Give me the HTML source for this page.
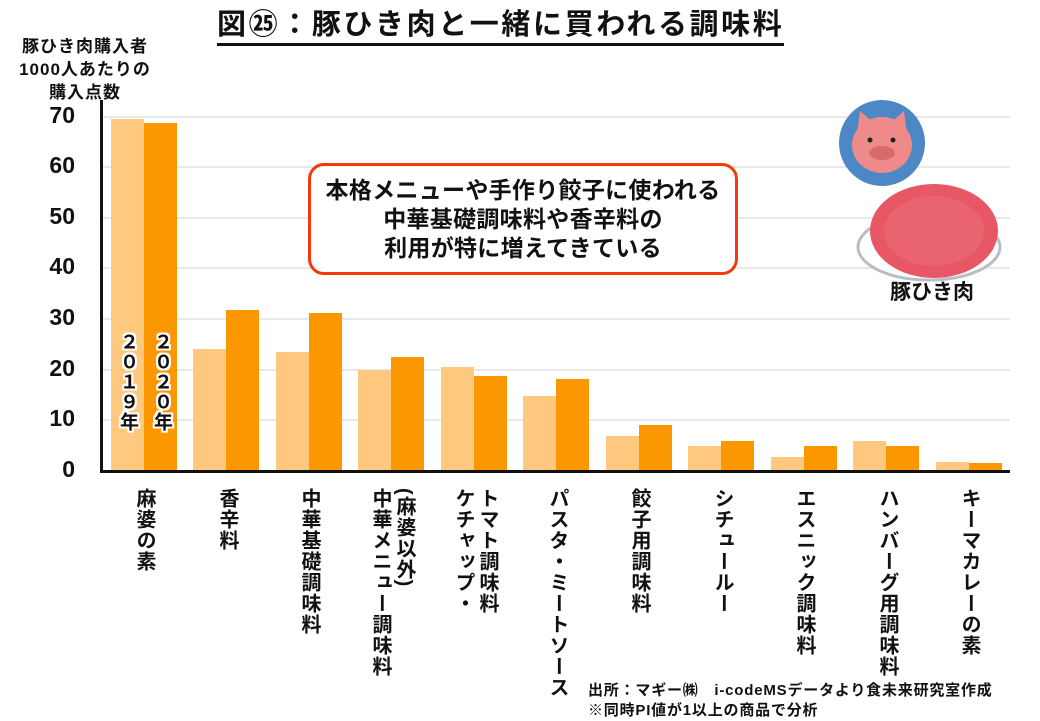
<!DOCTYPE html>
<html><head><meta charset="utf-8"><style>
body{margin:0;width:1040px;height:720px;background:#fff;position:relative;overflow:hidden;font-family:"Liberation Sans","Noto Sans CJK JP",sans-serif;font-weight:bold;color:#111}
.a{position:absolute}
.g{position:absolute;left:102px;width:908px;height:2px;background:#e8e8e8}
.t{position:absolute;width:70px;text-align:right;font-size:23px;left:5px}
.b{position:absolute;width:33px;bottom:249px}
.l{background:#fec97f}.d{background:#fb9700}
.v{position:absolute;top:488px;writing-mode:vertical-rl;font-size:20px;line-height:24px;letter-spacing:1px;white-space:nowrap}
.yr{position:absolute;top:332px;writing-mode:vertical-rl;text-orientation:upright;font-size:19px;line-height:20px;letter-spacing:1px;color:#111;text-shadow:-2px 0 #fff,2px 0 #fff,0 -2px #fff,0 2px #fff,-2px -2px #fff,2px 2px #fff,2px -2px #fff,-2px 2px #fff}
</style></head><body>
<div class="a" style="left:217px;top:8px;font-size:29px;letter-spacing:2.6px;border-bottom:3px solid #111;line-height:35px;padding-bottom:0px;white-space:nowrap">図㉕：豚ひき肉と一緒に買われる調味料</div>
<div class="a" style="left:0px;top:35px;width:170px;text-align:center;font-size:17px;line-height:23px;letter-spacing:1px">豚ひき肉購入者<br>1000人あたりの<br>購入点数</div>
<div class="g" style="top:116px"></div><div class="g" style="top:166px"></div><div class="g" style="top:217px"></div><div class="g" style="top:267px"></div><div class="g" style="top:318px"></div><div class="g" style="top:369px"></div><div class="g" style="top:419px"></div>
<div class="t" style="top:102px">70</div><div class="t" style="top:152px">60</div><div class="t" style="top:203px">50</div><div class="t" style="top:253px">40</div><div class="t" style="top:304px">30</div><div class="t" style="top:355px">20</div><div class="t" style="top:405px">10</div><div class="t" style="top:456px">0</div>
<div class="b l" style="left:111px;height:352px"></div><div class="b d" style="left:144px;height:348px"></div>
<div class="b l" style="left:193px;height:122px"></div><div class="b d" style="left:226px;height:161px"></div>
<div class="b l" style="left:276px;height:119px"></div><div class="b d" style="left:309px;height:158px"></div>
<div class="b l" style="left:358px;height:101px"></div><div class="b d" style="left:391px;height:114px"></div>
<div class="b l" style="left:441px;height:104px"></div><div class="b d" style="left:474px;height:95px"></div>
<div class="b l" style="left:523px;height:75px"></div><div class="b d" style="left:556px;height:92px"></div>
<div class="b l" style="left:606px;height:35px"></div><div class="b d" style="left:639px;height:46px"></div>
<div class="b l" style="left:688px;height:25px"></div><div class="b d" style="left:721px;height:30px"></div>
<div class="b l" style="left:771px;height:14px"></div><div class="b d" style="left:804px;height:25px"></div>
<div class="b l" style="left:853px;height:30px"></div><div class="b d" style="left:886px;height:25px"></div>
<div class="b l" style="left:936px;height:9px"></div><div class="b d" style="left:969px;height:8px"></div>
<div class="a" style="left:100px;top:100px;width:3px;height:373px;background:#111"></div>
<div class="a" style="left:100px;top:470px;width:910px;height:3px;background:#111"></div>
<div class="yr" style="left:117px">２０１９年</div>
<div class="yr" style="left:151px">２０２０年</div>
<div class="v" style="left:132px">麻婆の素</div>
<div class="v" style="left:215px">香辛料</div>
<div class="v" style="left:297px">中華基礎調味料</div>
<div class="v" style="left:368px">(麻婆以外)<br>中華メニュー調味料</div>
<div class="v" style="left:451px">トマト調味料<br>ケチャップ・</div>
<div class="v" style="left:545px">パスタ・ミートソース</div>
<div class="v" style="left:627px">餃子用調味料</div>
<div class="v" style="left:710px">シチュールー</div>
<div class="v" style="left:792px">エスニック調味料</div>
<div class="v" style="left:875px">ハンバーグ用調味料</div>
<div class="v" style="left:957px">キーマカレーの素</div>
<div class="a" style="left:308px;top:163px;width:424px;border:3px solid #f53a0a;border-radius:16px;background:#fff;text-align:center;font-size:23px;letter-spacing:0.3px;line-height:29px;padding-top:10px;height:96px;white-space:nowrap">本格メニューや手作り餃子に使われる<br>中華基礎調味料や香辛料の<br>利用が特に増えてきている</div>
<svg class="a" style="left:830px;top:95px" width="200" height="190">
<circle cx="52" cy="48" r="43" fill="#4c87c6"/>
<path d="M27 40 L30 16 L46 30 Z M77 40 L74 16 L58 30 Z" fill="#ee8a8a"/>
<ellipse cx="52" cy="50" rx="30" ry="28" fill="#ee8a8a"/>
<circle cx="40" cy="45" r="2.5" fill="#222"/><circle cx="63" cy="45" r="2.5" fill="#222"/>
<ellipse cx="52" cy="58" rx="13" ry="7" fill="#d86a6a"/>
<ellipse cx="99" cy="152" rx="71" ry="33" fill="#fff" stroke="#b9bec6" stroke-width="3"/>
<ellipse cx="104" cy="136" rx="64" ry="47" fill="#e75766"/>
<ellipse cx="104" cy="136" rx="50" ry="35" fill="#ec6b78" opacity=".6"/>
</svg>
<div class="a" style="left:890px;top:276px;font-size:21px">豚ひき肉</div>
<div class="a" style="left:588px;top:681px;font-size:15px;line-height:20px;letter-spacing:0.8px;white-space:nowrap">出所：マギー㈱　i-codeMSデータより食未来研究室作成<br>※同時PI値が1以上の商品で分析</div>
</body></html>
